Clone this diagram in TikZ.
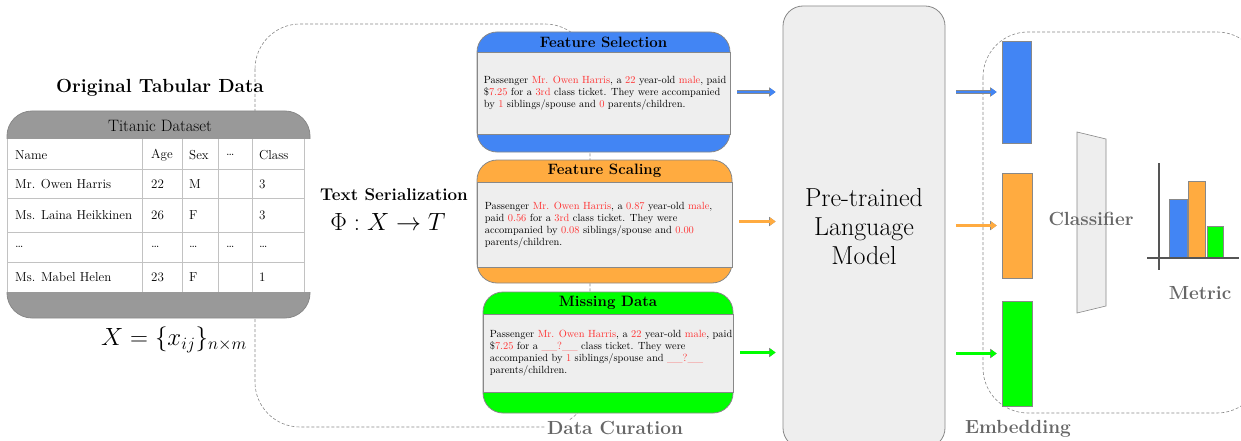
\documentclass[tikz,border=0pt]{standalone}
\usepackage{amsmath}
\usepackage{tikz}
\usetikzlibrary{positioning,arrows.meta}

\definecolor{fsblue}{HTML}{4285F4}
\definecolor{fsorange}{HTML}{FFAB40}
\definecolor{fsgreen}{HTML}{00FF00}
\definecolor{boxgray}{HTML}{EEEEEE}
\definecolor{edgegray}{HTML}{888888}
\definecolor{bandgray}{HTML}{999999}
\definecolor{txtred}{HTML}{FF3333}
\definecolor{lblgray}{HTML}{666666}
\definecolor{axisgray}{HTML}{555555}

\newcommand{\hl}[1]{\textcolor{txtred}{#1}}
\newcommand{\etc}{\ldots}

\begin{document}
\begin{tikzpicture}[x=1pt, y=-1pt]
\tikzstyle{edge} = [draw=edgegray, line width=0.8pt]
\tikzstyle{fbox} = [edge, rounded corners=20pt, inner sep=0]
\tikzstyle{fbody} = [edge, fill=boxgray, inner sep=0]
\tikzstyle{ftitle} = [font=\fontsize{15}{17}\selectfont\bfseries, inner sep=0]
\tikzstyle{ftext} = [font=\fontsize{10.4}{11.9}\selectfont, align=left, inner sep=0]
\tikzstyle{lbl} = [font=\fontsize{19}{21}\selectfont\bfseries, text=lblgray, inner sep=1pt]
\tikzstyle{flow} = [line width=2.8pt, -{Triangle[length=5.5pt,width=7.5pt]},
  preaction={draw=edgegray, line width=3.8pt, -{Triangle[length=6.5pt,width=9pt]}}]
\tikzstyle{dashbox} = [draw=edgegray, line width=0.6pt, dash pattern=on 3pt off 2pt, rounded corners=45pt]
\tikzstyle{bar} = [draw=edgegray, line width=0.6pt, inner sep=0]
\tikzstyle{tabcell} = [font=\fontsize{13}{15}\selectfont, anchor=west, inner sep=0]

\useasboundingbox (0,0) rectangle (1241,441);

% Riquadri tratteggiati
\draw[dashbox] (255,24) rectangle (590,427);
\draw[dashbox] (983,32) rectangle (1262,413);

% Dati tabellari
\node[font=\fontsize{19}{22}\selectfont\bfseries] (orig) at (160,88) {Original Tabular Data};
\node[edge, fill=bandgray, rounded corners=25pt, minimum width=303pt, minimum height=207pt] (tab) at (158.5,214.5) {};
\node[fill=white, inner sep=0, minimum width=306pt, minimum height=153pt] (tab-body) at (159,215.5) {};
\node[font=\fontsize{16.5}{18}\selectfont] (tab-title) at (160,126) {Titanic Dataset};

% griglia
\foreach \yy in {169,198,232,262} {
  \draw[draw=bandgray!60, line width=0.6pt] (7,\yy) -- (304,\yy);
}
\foreach \xx in {7,142,182,218,252,304} {
  \draw[draw=bandgray!60, line width=0.6pt] (\xx,139) -- (\xx,292);
}

% celle: riga/y/colonne
\foreach \r/\yy/\a/\b/\c/\d/\e in {
    0/155/Name/Age/Sex/\etc/Class,
    1/184/Mr. Owen Harris/22/M//3,
    2/215.5/Ms. Laina Heikkinen/26/F//3,
    3/247/\etc/\etc/\etc/\etc/\etc,
    4/277.5/Ms. Mabel Helen/23/F//1} {
  \node[tabcell] (t-\r-0) at (15,\yy) {\a};
  \node[tabcell] (t-\r-1) at (151,\yy) {\b};
  \node[tabcell] (t-\r-2) at (189,\yy) {\c};
  \node[tabcell] (t-\r-3) at (226,\yy) {\d};
  \node[tabcell] (t-\r-4) at (259,\yy) {\e};
}

\node[font=\fontsize{27}{29}\selectfont] (xform) at (174,340) {$X = \{x_{ij}\}_{n\times m}$};

% Serializzazione
\node[font=\fontsize{17}{19}\selectfont\bfseries] (ser) at (394,195) {Text Serialization};
\node[font=\fontsize{28.5}{30}\selectfont] (phi) at (388,222) {$\Phi: X\rightarrow T$};

% --- Feature Selection ---
\node[fbox, fill=fsblue, minimum width=253pt, minimum height=120pt] (fs) at (603.5,92) {};
\node[fbody, minimum width=253pt, minimum height=82pt, anchor=north] (fs-body) at (603.5,52) {};
\node[ftitle] (fs-title) at (603.5,42) {Feature Selection};
\node[ftext, right=7pt of fs-body.west] (fs-text) {Passenger \hl{Mr. Owen Harris}, a \hl{22} year-old \hl{male}, paid\\
  \$\hl{7.25} for a \hl{3rd} class ticket. They were accompanied\\
  by \hl{1} siblings/spouse and \hl{0} parents/children.};

% --- Feature Scaling ---
\node[fbox, fill=fsorange, minimum width=255pt, minimum height=123pt] (fsc) at (604.5,221.5) {};
\node[fbody, minimum width=255pt, minimum height=85pt, anchor=north] (fsc-body) at (604.5,182) {};
\node[ftitle] (fsc-title) at (604.5,171) {Feature Scaling};
\node[ftext, right=8pt of fsc-body.west] (fsc-text) {Passenger \hl{Mr. Owen Harris}, a \hl{0.87} year-old \hl{male},\\
  paid \hl{0.56} for a \hl{3rd} class ticket. They were\\
  accompanied by \hl{0.08} siblings/spouse and \hl{0.00}\\
  parents/children.};

% --- Missing Data ---
\node[fbox, fill=fsgreen, minimum width=250pt, minimum height=121pt] (md) at (608,352.5) {};
\node[fbody, minimum width=250pt, minimum height=78pt, anchor=north] (md-body) at (608,314) {};
\node[ftitle] (md-title) at (608,303) {Missing Data};
\node[ftext, right=7pt of md-body.west] (md-text) {Passenger \hl{Mr. Owen Harris}, a \hl{22} year-old \hl{male}, paid\\
  \$\hl{7.25} for a \hl{\_\_?\_\_} class ticket. They were\\
  accompanied by \hl{1} siblings/spouse and \hl{\_\_?\_\_}\\
  parents/children.};

\node[lbl, fill=white] (cur) at (615,428) {Data Curation};

% Modello linguistico
\node[edge, fill=boxgray, rounded corners=20pt, minimum width=162pt, minimum height=442pt,
  align=center, font=\fontsize{26}{29}\selectfont] (lm) at (864,227) {Pre-trained\\Language\\Model};

% Embedding
\node[bar, fill=fsblue, minimum width=29pt, minimum height=102pt] (emb-b) at (1016.5,92) {};
\node[bar, fill=fsorange, minimum width=30pt, minimum height=105pt] (emb-o) at (1017,225.5) {};
\node[bar, fill=fsgreen, minimum width=30pt, minimum height=105pt] (emb-g) at (1017,353.5) {};
\node[lbl] (emb) at (1018,429) {Embedding};

% Frecce
\foreach \src/\dst/\col in {fs/emb-b/fsblue, fsc/emb-o/fsorange, md/emb-g/fsgreen} {
  \draw[flow, draw=\col, fill=\col, shorten <=7pt, shorten >=7pt] (\src.east) -- (\src.east -| lm.west);
  \draw[flow, draw=\col, fill=\col, shorten <=11pt, shorten >=5pt] (\dst.west -| lm.east) -- (\dst.west);
}

% Classificatore
\draw[edge, line width=0.6pt, fill=boxgray] (1077,132) -- (1106,139) -- (1106,306) -- (1077,313) -- cycle;
\node[lbl] (cls) at (1091,219) {Classifier};

% Metrica
\node[bar, fill=fsblue, minimum width=18pt, minimum height=59pt] (m-b) at (1178,228.5) {};
\node[bar, fill=fsorange, minimum width=17pt, minimum height=77pt] (m-o) at (1196.5,219.5) {};
\node[bar, fill=fsgreen, minimum width=16pt, minimum height=32pt] (m-g) at (1215,242) {};
\draw[axisgray, line width=1.6pt] (1159,163) -- (1159,270);
\draw[axisgray, line width=1.6pt] (1147,258) -- (1239,258);
\node[lbl] (met) at (1200,293) {Metric};

\end{tikzpicture}
\end{document}
